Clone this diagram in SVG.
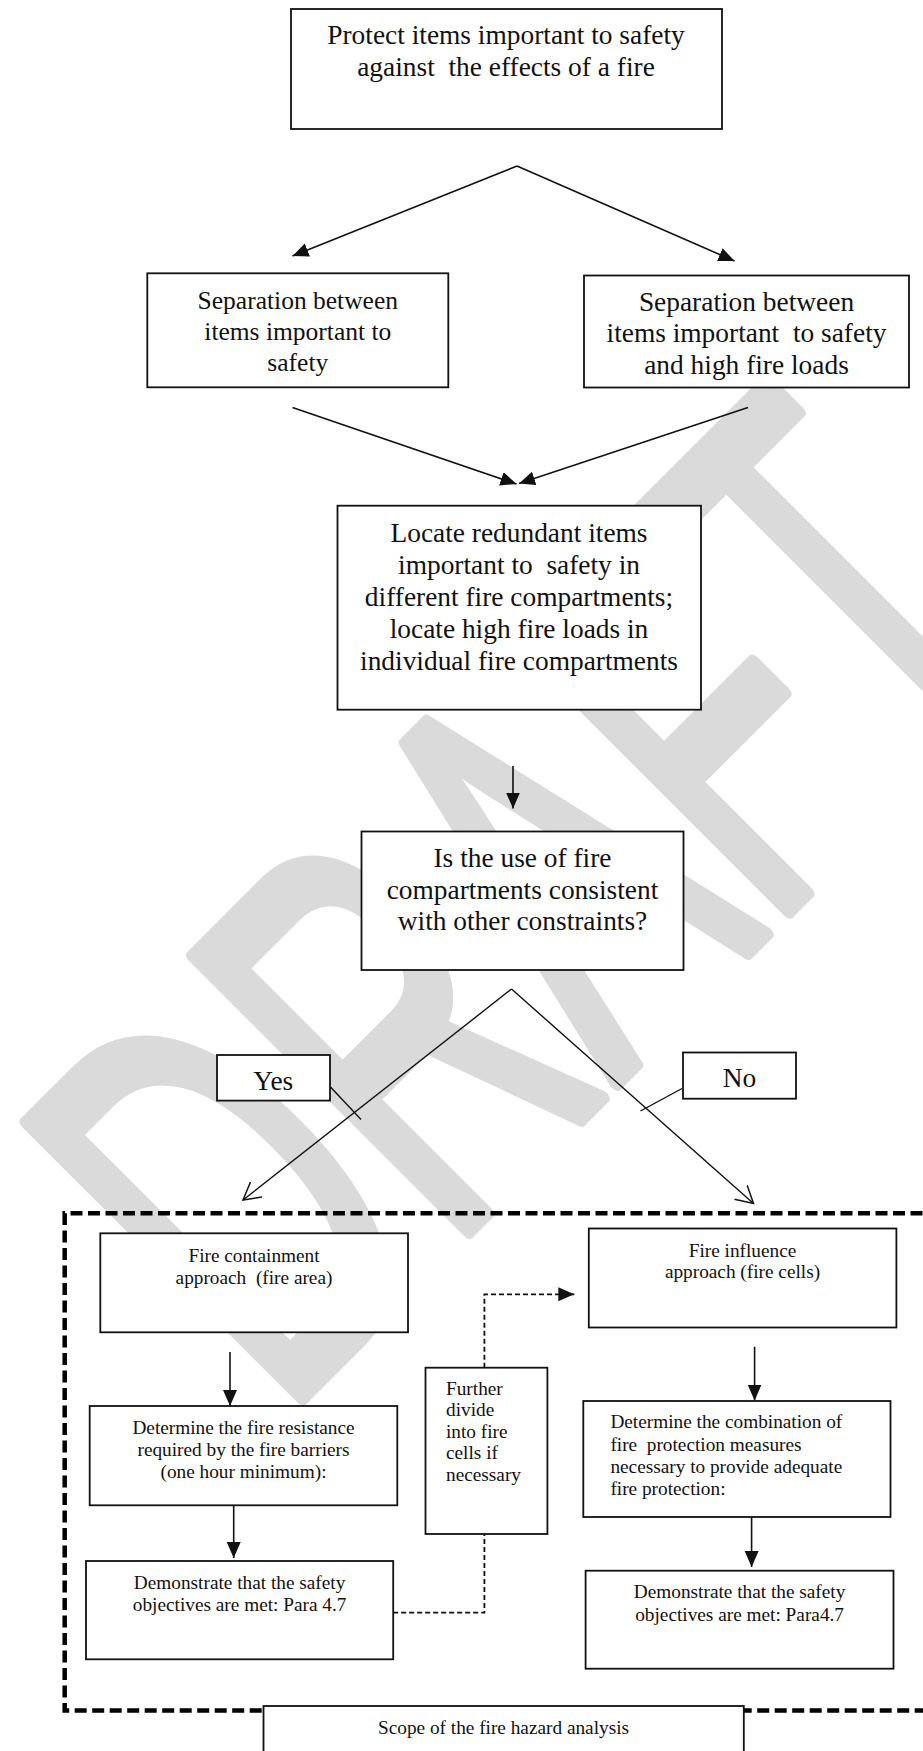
<svg xmlns="http://www.w3.org/2000/svg" width="923" height="1751" viewBox="0 0 923 1751">
<defs>
<style>
.box{fill:#fff;stroke:#111;stroke-width:1.8}
.t{font-family:"Liberation Serif","Times New Roman",serif;fill:#111;white-space:pre}
.L{font-size:27.4px;text-anchor:middle}
.M{font-size:25.5px;text-anchor:middle}
.S{font-size:19.3px}
.c{text-anchor:middle}
.ln{stroke:#111;stroke-width:1.6;fill:none}
.thin{stroke:#111;stroke-width:1.4;fill:none}
.dsh{stroke:#111;stroke-width:1.8;fill:none;stroke-dasharray:5 3}
.frame{stroke:#000;stroke-width:4.5;fill:none;stroke-dasharray:12 5.5}
</style>
<marker id="af" markerWidth="20" markerHeight="20" refX="16" refY="7" orient="auto" markerUnits="userSpaceOnUse"><path d="M0,0 L16,7 L0,14 z" fill="#111"/></marker>
<marker id="ao" markerWidth="22" markerHeight="22" refX="17" refY="10" orient="auto" markerUnits="userSpaceOnUse"><path d="M0,0.5 L17,10 L0,19.5" fill="none" stroke="#111" stroke-width="1.5"/></marker>
</defs>
<rect width="923" height="1751" fill="#fff"/>
<g id="watermark" transform="translate(300,1400) rotate(-45) scale(1,1.735)">
<text x="-26" y="0" font-family="'Liberation Sans',Arial,sans-serif" font-size="326" fill="#dadada" stroke="#dadada" stroke-width="12" stroke-linejoin="round" vector-effect="non-scaling-stroke">DRAFT</text>
</g>
<g id="connectors">
<line class="ln" x1="517" y1="166" x2="292.5" y2="256" marker-end="url(#af)"/>
<line class="ln" x1="517" y1="166" x2="734.5" y2="261" marker-end="url(#af)"/>
<line class="ln" x1="292.5" y1="407.5" x2="516.5" y2="484" marker-end="url(#af)"/>
<line class="ln" x1="748" y1="407.5" x2="519" y2="483.5" marker-end="url(#af)"/>
<line class="ln" x1="513" y1="766" x2="513" y2="808.5" marker-end="url(#af)"/>
<line class="thin" x1="511.5" y1="989" x2="243" y2="1200" marker-end="url(#ao)"/>
<line class="thin" x1="511.5" y1="989" x2="753.5" y2="1203.5" marker-end="url(#ao)"/>
<line class="thin" x1="330.5" y1="1087" x2="361" y2="1119.5"/>
<line class="thin" x1="682" y1="1088.5" x2="640.5" y2="1111"/>
<line class="ln" x1="230" y1="1352" x2="230" y2="1406" marker-end="url(#af)"/>
<line class="ln" x1="233.7" y1="1505.3" x2="233.7" y2="1558" marker-end="url(#af)"/>
<line class="ln" x1="754.6" y1="1346.7" x2="754.6" y2="1400.5" marker-end="url(#af)"/>
<line class="ln" x1="751.6" y1="1517" x2="751.6" y2="1567" marker-end="url(#af)"/>
<path class="dsh" d="M484.4,1367.7 V1294.3 H574.3" marker-end="url(#af)"/>
<path class="dsh" d="M393.2,1612.7 H484.4 V1534"/>
<path class="frame" d="M940,1213.3 H64.7 V1710.5 H940"/>
</g>
<g id="n1"><rect class="box" x="291" y="9" width="431" height="120"/>
<text class="t L" x="506" y="44.3">Protect items important to safety</text>
<text class="t L" x="506" y="75.7">against  the effects of a fire</text></g>
<g id="n2"><rect class="box" x="147.3" y="273.3" width="301" height="114"/>
<text class="t M" x="297.8" y="308.5">Separation between</text>
<text class="t M" x="297.8" y="339.5">items important to</text>
<text class="t M" x="297.8" y="370.5">safety</text></g>
<g id="n3"><rect class="box" x="584" y="275.5" width="325" height="112"/>
<text class="t L" x="746.5" y="310.5">Separation between</text>
<text class="t L" x="746.5" y="342.3">items important  to safety</text>
<text class="t L" x="746.5" y="374.2">and high fire loads</text></g>
<g id="n4"><rect class="box" x="337.5" y="505.7" width="363.5" height="204"/>
<text class="t L" x="519" y="541.5">Locate redundant items</text>
<text class="t L" x="519" y="573.5">important to  safety in</text>
<text class="t L" x="519" y="605.5">different fire compartments;</text>
<text class="t L" x="519" y="637.5">locate high fire loads in</text>
<text class="t L" x="519" y="669.5">individual fire compartments</text></g>
<g id="n5"><rect class="box" x="361.5" y="831.5" width="322" height="138.5"/>
<text class="t L" x="522.5" y="866.8">Is the use of fire</text>
<text class="t L" x="522.5" y="898.6">compartments consistent</text>
<text class="t L" x="522.5" y="930.3">with other constraints?</text></g>
<g id="yes"><rect class="box" x="217" y="1055" width="113" height="45.6"/>
<text class="t L" x="273.3" y="1089.8">Yes</text></g>
<g id="no"><rect class="box" x="683" y="1052.5" width="113" height="46.2"/>
<text class="t L" x="739.4" y="1087.3">No</text></g>
<g id="n6"><rect class="box" x="100.3" y="1233.3" width="307.7" height="99"/>
<text class="t S c" x="254" y="1262">Fire containment</text>
<text class="t S c" x="254" y="1284">approach  (fire area)</text></g>
<g id="n7"><rect class="box" x="588.8" y="1228.5" width="307.6" height="99"/>
<text class="t S c" x="742.5" y="1257">Fire influence</text>
<text class="t S c" x="742.5" y="1278">approach (fire cells)</text></g>
<g id="n8"><rect class="box" x="425.5" y="1367.7" width="121.9" height="166.3"/>
<text class="t S" x="446" y="1394.5">Further</text>
<text class="t S" x="446" y="1416">divide</text>
<text class="t S" x="446" y="1437.5">into fire</text>
<text class="t S" x="446" y="1459">cells if</text>
<text class="t S" x="446" y="1480.5">necessary</text></g>
<g id="n9"><rect class="box" x="89.7" y="1406" width="307.6" height="99.3"/>
<text class="t S c" x="243.5" y="1434">Determine the fire resistance</text>
<text class="t S c" x="243.5" y="1456">required by the fire barriers</text>
<text class="t S c" x="243.5" y="1478">(one hour minimum):</text></g>
<g id="n10"><rect class="box" x="583.3" y="1401" width="307.2" height="116"/>
<text class="t S" x="610.4" y="1428.3">Determine the combination of</text>
<text class="t S" x="610.4" y="1450.6">fire  protection measures</text>
<text class="t S" x="610.4" y="1472.8">necessary to provide adequate</text>
<text class="t S" x="610.4" y="1495">fire protection:</text></g>
<g id="n11"><rect class="box" x="86" y="1561" width="307.2" height="98.3"/>
<text class="t S c" x="239.6" y="1589.3">Demonstrate that the safety</text>
<text class="t S c" x="239.6" y="1611">objectives are met: Para 4.7</text></g>
<g id="n12"><rect class="box" x="585.6" y="1570.7" width="307.9" height="98"/>
<text class="t S c" x="739.6" y="1598.3">Demonstrate that the safety</text>
<text class="t S c" x="739.6" y="1620.5">objectives are met: Para4.7</text></g>
<g id="n13"><rect class="box" x="263.5" y="1706" width="480.3" height="60"/>
<text class="t S c" x="503.5" y="1734">Scope of the fire hazard analysis</text></g>
</svg>
